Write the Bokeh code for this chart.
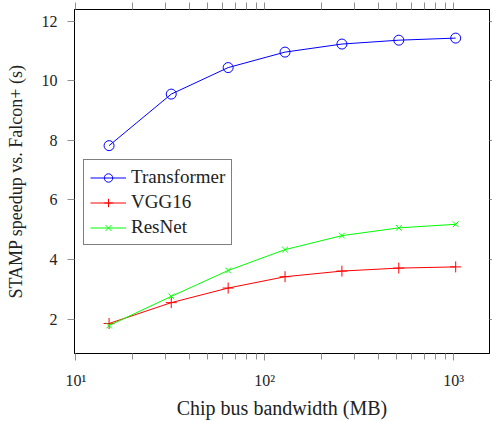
from bokeh.plotting import figure
from bokeh.models import FixedTicker, Legend, LegendItem, LogAxis, LinearAxis
from bokeh.embed import file_html
from bokeh.resources import INLINE

bandwidth = [15, 32, 64, 128, 256, 512, 1024]
transformer = [7.82, 9.55, 10.44, 10.96, 11.23, 11.36, 11.43]
vgg16 = [1.85, 2.55, 3.04, 3.42, 3.61, 3.71, 3.75]
resnet = [1.78, 2.76, 3.63, 4.33, 4.80, 5.06, 5.18]

x_major = [10, 100, 1000]
x_minor = [m * d for d in (10, 100, 1000) for m in range(2, 10)]
x_labels = {10: "10\u00b9", 100: "10\u00b2", 1000: "10\u00b3"}
y_major = [2, 4, 6, 8, 10, 12]

SERIF = "Liberation Serif"
TICK_COLOR = "#909090"

p = figure(width=492, height=421, x_axis_type="log",
           x_range=(9.843, 1546), y_range=(0.843, 12.39),
           output_backend="svg", toolbar_location=None,
           min_border_left=74, min_border_right=3, min_border_top=9,
           min_border_bottom=68)
p.grid.visible = False
p.outline_line_color = "black"
p.outline_line_width = 1
p.background_fill_color = "white"
p.border_fill_color = "white"

bx = p.below[0]
ly = p.left[0]

# mirrored ticks on top and right (minor ticks only, so no labels)
top_ax = LogAxis(ticker=FixedTicker(ticks=[], minor_ticks=x_major + x_minor))
right_ax = LinearAxis(ticker=FixedTicker(ticks=[], minor_ticks=y_major))
for ax, out in ((top_ax, 7), (right_ax, 3)):
    ax.major_tick_in = 0
    ax.major_tick_out = 0
    ax.minor_tick_in = 0
    ax.minor_tick_out = out
    ax.major_label_standoff = 0
    ax.minor_tick_line_color = TICK_COLOR
    ax.axis_line_color = "black"
p.add_layout(top_ax, "above")
p.add_layout(right_ax, "right")

bx.ticker = FixedTicker(ticks=x_major, minor_ticks=x_minor)
bx.major_label_overrides = x_labels
ly.ticker = FixedTicker(ticks=y_major, minor_ticks=[])
for ax in (bx, ly):
    ax.axis_line_color = "black"
    ax.major_tick_in = 0
    ax.major_tick_out = 7
    ax.minor_tick_in = 0
    ax.minor_tick_out = 6
    ax.major_tick_line_color = TICK_COLOR
    ax.minor_tick_line_color = TICK_COLOR
    ax.major_label_text_font = SERIF
    ax.major_label_text_font_size = "16px"
    ax.major_label_text_color = "#222222"
    ax.axis_label_text_font = SERIF
    ax.axis_label_text_font_style = "normal"
    ax.axis_label_text_color = "#222222"

bx.axis_label = "Chip bus bandwidth (MB)"
bx.axis_label_text_font_size = "20px"
ly.axis_label = "STAMP speedup vs. Falcon+ (s)"
ly.axis_label_text_font_size = "18px"
bx.major_label_standoff = 11
bx.axis_label_standoff = 5
ly.major_label_standoff = 10
ly.axis_label_standoff = 13

l1 = p.line(bandwidth, transformer, line_color="#0000ff", line_width=1)
s1 = p.scatter(bandwidth, transformer, marker="circle", size=10,
               line_color="#0000ff", fill_color=None, line_width=1)
l2 = p.line(bandwidth, vgg16, line_color="#ff0000", line_width=1)
s2 = p.scatter(bandwidth, vgg16, marker="cross", size=11,
               line_color="#ff0000", line_width=1)
l3 = p.line(bandwidth, resnet, line_color="#00ff00", line_width=1)
s3 = p.scatter(bandwidth, resnet, marker="x", size=8,
               line_color="#00ff00", line_width=1)

legend = Legend(items=[
    LegendItem(label="Transformer", renderers=[l1, s1]),
    LegendItem(label="VGG16", renderers=[l2, s2]),
    LegendItem(label="ResNet", renderers=[l3, s3]),
], location=(9, 108), margin=0, padding=6, spacing=3,
    glyph_width=36, glyph_height=21, label_height=21, label_standoff=5,
    border_line_color="black", border_line_width=1,
    background_fill_alpha=1.0,
    label_text_font=SERIF, label_text_font_size="19px",
    label_text_color="#222222")
p.add_layout(legend, "center")

open("out.html", "w").write(file_html(p, INLINE))
